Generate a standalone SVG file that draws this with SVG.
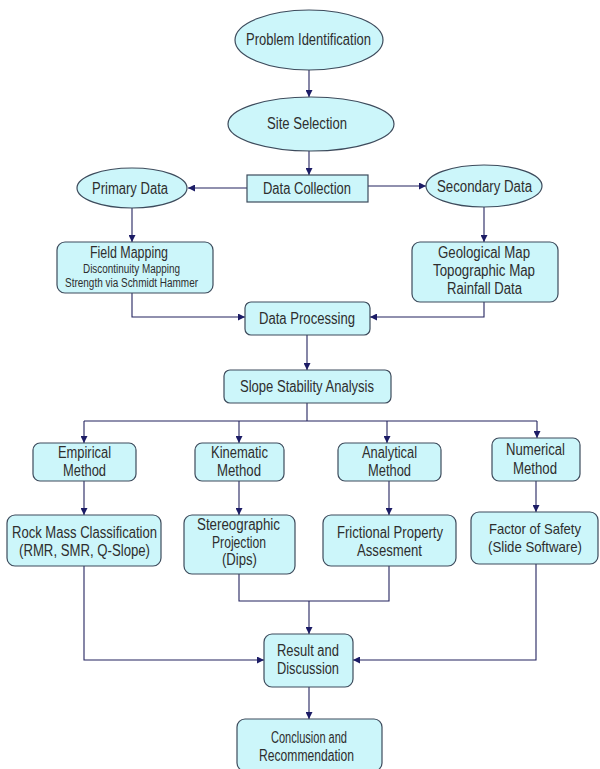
<svg xmlns="http://www.w3.org/2000/svg" width="600" height="769" viewBox="0 0 600 769">
<defs>
<style>
.n{fill:#ccf6fa;stroke:#3d4b5c;stroke-width:1.2}
.t{font-family:"Liberation Sans",Arial,sans-serif;font-size:16px;fill:#2e2e2e;text-anchor:middle}
.s{font-size:12.5px}
.m{font-size:14.5px}
.c{fill:none;stroke:#23235f;stroke-width:1.1}
</style>
<marker id="a" viewBox="0 0 10 10" refX="10" refY="5" markerWidth="7" markerHeight="7" orient="auto" markerUnits="userSpaceOnUse">
<path d="M0,0 L10,5 L0,10 z" fill="#1c1c66"/>
</marker>
</defs>
<rect width="600" height="769" fill="#ffffff"/>
<g id="connectors">
<path class="c" d="M309,70 V97" marker-end="url(#a)"/>
<path class="c" d="M309,151 V175" marker-end="url(#a)"/>
<path class="c" d="M247,188 H188" marker-end="url(#a)"/>
<path class="c" d="M368,186 H426" marker-end="url(#a)"/>
<path class="c" d="M132,208 V242" marker-end="url(#a)"/>
<path class="c" d="M484,207 V242" marker-end="url(#a)"/>
<path class="c" d="M132,293 V317 H245" marker-end="url(#a)"/>
<path class="c" d="M484,302 V317 H370" marker-end="url(#a)"/>
<path class="c" d="M307,335 V370" marker-end="url(#a)"/>
<path class="c" d="M307,403 V421"/>
<path class="c" d="M84,421 H537"/>
<path class="c" d="M84,421 V443" marker-end="url(#a)"/>
<path class="c" d="M239,421 V443" marker-end="url(#a)"/>
<path class="c" d="M387,421 V443" marker-end="url(#a)"/>
<path class="c" d="M537,421 V438" marker-end="url(#a)"/>
<path class="c" d="M84,481 V515" marker-end="url(#a)"/>
<path class="c" d="M239,481 V515" marker-end="url(#a)"/>
<path class="c" d="M389,481 V515" marker-end="url(#a)"/>
<path class="c" d="M536,481 V512" marker-end="url(#a)"/>
<path class="c" d="M239,574 V601 H389 V566"/>
<path class="c" d="M309,601 V634" marker-end="url(#a)"/>
<path class="c" d="M84,566 V660 H264" marker-end="url(#a)"/>
<path class="c" d="M536,564 V660 H353" marker-end="url(#a)"/>
<path class="c" d="M309,687 V719" marker-end="url(#a)"/>
</g>
<g id="problem-identification">
<ellipse class="n" cx="309" cy="40" rx="74" ry="30"/>
<text class="t" x="308.5" y="45" textLength="125" lengthAdjust="spacingAndGlyphs">Problem Identification</text>
</g>
<g id="site-selection">
<ellipse class="n" cx="311" cy="124" rx="83" ry="27"/>
<text class="t" x="307" y="129" textLength="80" lengthAdjust="spacingAndGlyphs">Site Selection</text>
</g>
<g id="data-collection">
<rect class="n" x="247" y="175" width="121" height="27"/>
<text class="t" x="307" y="194" textLength="88" lengthAdjust="spacingAndGlyphs">Data Collection</text>
</g>
<g id="primary-data">
<ellipse class="n" cx="132" cy="188" rx="55" ry="20"/>
<text class="t" x="130" y="194" textLength="76" lengthAdjust="spacingAndGlyphs">Primary Data</text>
</g>
<g id="secondary-data">
<ellipse class="n" cx="484" cy="186" rx="58" ry="21"/>
<text class="t" x="484.5" y="192" textLength="95" lengthAdjust="spacingAndGlyphs">Secondary Data</text>
</g>
<g id="field-mapping">
<rect class="n" x="57" y="242" width="156" height="51" rx="8"/>
<text class="t" x="129" y="258" textLength="78" lengthAdjust="spacingAndGlyphs">Field Mapping</text>
<text class="t s" x="131.5" y="273" textLength="97" lengthAdjust="spacingAndGlyphs">Discontinuity Mapping</text>
<text class="t s" x="131.5" y="287" textLength="133" lengthAdjust="spacingAndGlyphs">Strength via Schmidt Hammer</text>
</g>
<g id="secondary-sources">
<rect class="n" x="412" y="242" width="146" height="60" rx="8"/>
<text class="t" x="484" y="258" textLength="92" lengthAdjust="spacingAndGlyphs">Geological Map</text>
<text class="t" x="484" y="276" textLength="102" lengthAdjust="spacingAndGlyphs">Topographic Map</text>
<text class="t" x="484.5" y="294" textLength="75" lengthAdjust="spacingAndGlyphs">Rainfall Data</text>
</g>
<g id="data-processing">
<rect class="n" x="245" y="302" width="125" height="33" rx="6"/>
<text class="t" x="307" y="324" textLength="96" lengthAdjust="spacingAndGlyphs">Data Processing</text>
</g>
<g id="slope-stability-analysis">
<rect class="n" x="224" y="370" width="167" height="33" rx="6"/>
<text class="t" x="307" y="392" textLength="134" lengthAdjust="spacingAndGlyphs">Slope Stability Analysis</text>
</g>
<g id="empirical-method">
<rect class="n" x="33" y="443" width="103" height="38" rx="7"/>
<text class="t" x="84.5" y="458" textLength="53" lengthAdjust="spacingAndGlyphs">Empirical</text>
<text class="t" x="84.5" y="476" textLength="43" lengthAdjust="spacingAndGlyphs">Method</text>
</g>
<g id="kinematic-method">
<rect class="n" x="195" y="443" width="89" height="38" rx="7"/>
<text class="t" x="239.5" y="458" textLength="57" lengthAdjust="spacingAndGlyphs">Kinematic</text>
<text class="t" x="239" y="476" textLength="44" lengthAdjust="spacingAndGlyphs">Method</text>
</g>
<g id="analytical-method">
<rect class="n" x="338" y="443" width="103" height="38" rx="7"/>
<text class="t" x="389.5" y="458" textLength="55" lengthAdjust="spacingAndGlyphs">Analytical</text>
<text class="t" x="389.5" y="476" textLength="43" lengthAdjust="spacingAndGlyphs">Method</text>
</g>
<g id="numerical-method">
<rect class="n" x="492" y="438" width="88" height="43" rx="7"/>
<text class="t" x="535.5" y="455" textLength="59" lengthAdjust="spacingAndGlyphs">Numerical</text>
<text class="t" x="535" y="474" textLength="44" lengthAdjust="spacingAndGlyphs">Method</text>
</g>
<g id="rock-mass-classification">
<rect class="n" x="7" y="515" width="154" height="51" rx="8"/>
<text class="t" x="84.5" y="538" textLength="145" lengthAdjust="spacingAndGlyphs">Rock Mass Classification</text>
<text class="t" x="84.5" y="556" textLength="131" lengthAdjust="spacingAndGlyphs">(RMR, SMR, Q-Slope)</text>
</g>
<g id="stereographic-projection">
<rect class="n" x="184" y="515" width="111" height="59" rx="8"/>
<text class="t" x="238.5" y="530" textLength="83" lengthAdjust="spacingAndGlyphs">Stereographic</text>
<text class="t" x="239" y="548" textLength="54" lengthAdjust="spacingAndGlyphs">Projection</text>
<text class="t" x="239.5" y="565" textLength="35" lengthAdjust="spacingAndGlyphs">(Dips)</text>
</g>
<g id="frictional-property">
<rect class="n" x="323" y="515" width="133" height="51" rx="8"/>
<text class="t" x="390" y="538" textLength="106" lengthAdjust="spacingAndGlyphs">Frictional Property</text>
<text class="t" x="389.5" y="556" textLength="65" lengthAdjust="spacingAndGlyphs">Assesment</text>
</g>
<g id="factor-of-safety">
<rect class="n" x="471" y="512" width="127" height="52" rx="8"/>
<text class="t m" x="535" y="534" textLength="92" lengthAdjust="spacingAndGlyphs">Factor of Safety</text>
<text class="t m" x="535" y="552" textLength="94" lengthAdjust="spacingAndGlyphs">(Slide Software)</text>
</g>
<g id="result-and-discussion">
<rect class="n" x="264" y="634" width="89" height="53" rx="8"/>
<text class="t" x="308" y="656" textLength="62" lengthAdjust="spacingAndGlyphs">Result and</text>
<text class="t" x="308" y="674" textLength="62" lengthAdjust="spacingAndGlyphs">Discussion</text>
</g>
<g id="conclusion-and-recommendation">
<rect class="n" x="237" y="719" width="145" height="52" rx="8"/>
<text class="t" x="309" y="743" textLength="76" lengthAdjust="spacingAndGlyphs">Conclusion and</text>
<text class="t" x="306.5" y="761" textLength="95" lengthAdjust="spacingAndGlyphs">Recommendation</text>
</g>
</svg>
